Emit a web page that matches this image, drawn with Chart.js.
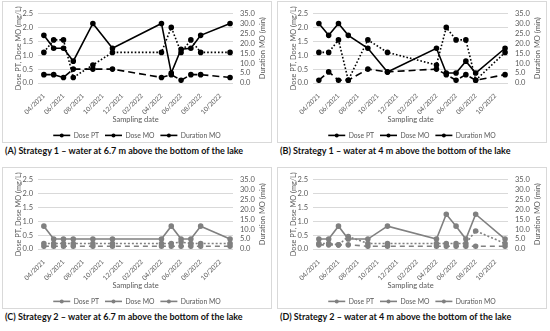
<!DOCTYPE html>
<html>
<head>
<meta charset="utf-8">
<script src="https://cdn.jsdelivr.net/npm/chart.js@4.4.0/dist/chart.umd.js"></script>
<style>
  body { margin: 0; background: #fff; width: 550px; height: 331px; position: relative; overflow: hidden; }
  .panel { position: absolute; width: 268px; height: 140px; border: 1px solid #d9d9d9; }
  .panel canvas { display: block; }
  .caption { position: absolute; font-family: Lato, sans-serif; font-weight: bold; font-size: 9px; color: #111; white-space: nowrap; }
</style>
</head>
<body>
<div class="panel" style="left:2px;top:1px"><canvas id="chartA" width="268" height="140"></canvas></div>
<div class="panel" style="left:277px;top:1px"><canvas id="chartB" width="268" height="140"></canvas></div>
<div class="panel" style="left:2px;top:167px"><canvas id="chartC" width="268" height="140"></canvas></div>
<div class="panel" style="left:277px;top:167px"><canvas id="chartD" width="268" height="140"></canvas></div>
<div class="caption" style="left:5px;top:145px">(A) Strategy 1 – water at 6.7 m above the bottom of the lake</div>
<div class="caption" style="left:280px;top:145px">(B) Strategy 1 – water at 4 m above the bottom of the lake</div>
<div class="caption" style="left:5px;top:311px">(C) Strategy 2 – water at 6.7 m above the bottom of the lake</div>
<div class="caption" style="left:280px;top:311px">(D) Strategy 2 – water at 4 m above the bottom of the lake</div>
<script>
// Sampling dates as months after 04/2021
const sampleMonths = [0, 1, 2, 3, 5, 7, 12, 13, 14, 15, 16, 19];
const tickMonths = [0, 2, 4, 6, 8, 10, 12, 14, 16, 18];
const tickLabels = ['04/2021', '06/2021', '08/2021', '10/2021', '12/2021', '02/2022', '04/2022', '06/2022', '08/2022', '10/2022'];

// (A) Strategy 1, 6.7 m
const aDosePT = [1.1, 1.55, 1.55, 0.2, 0.65, 1.1, 1.1, 2.0, 1.1, 1.55, 1.1, 1.1];
const aDoseMO = [0.3, 0.3, 0.2, 0.5, 0.5, 0.5, 0.2, 0.3, 0.1, 0.3, 0.3, 0.2];
const aDuration = [24, 17.5, 17.5, 11, 30, 17.5, 30, 5, 17, 17.5, 24, 30];

// (B) Strategy 1, 4 m
const bDosePT = [1.1, 1.1, 1.55, 0.1, 1.55, 1.1, 0.65, 2.0, 1.55, 1.55, 0.1, 1.1];
const bDoseMO = [0.1, 0.4, 0.1, 0.1, 0.5, 0.4, 0.5, 0.3, 0.1, 0.3, 0.1, 0.3];
const bDuration = [30, 24, 30, 24, 17.5, 5.5, 17.5, 5, 5, 11, 5, 17.5];

// (C) Strategy 2, 6.7 m
const cDosePT = [0.2, 0.2, 0.2, 0.2, 0.2, 0.2, 0.2, 0.2, 0.25, 0.2, 0.2, 0.2];
const cDoseMO = [0.1, 0.1, 0.1, 0.1, 0.1, 0.1, 0.1, 0.1, 0.1, 0.1, 0.1, 0.1];
const cDuration = [11.5, 5, 5, 5, 5, 5, 5, 11.5, 5, 5, 11.5, 5];

// (D) Strategy 2, 4 m
const dDosePT = [0.2, 0.2, 0.15, 0.45, 0.2, 0.2, 0.2, 0.2, 0.2, 0.2, 0.65, 0.2];
const dDoseMO = [0.15, 0.15, 0.15, 0.15, 0.1, 0.1, 0.1, 0.1, 0.1, 0.1, 0.1, 0.1];
const dDuration = [5, 5, 11.5, 5, 5, 11.5, 5, 17.5, 11.5, 5, 17.5, 5];

const FONT = 'Lato, sans-serif';
const TEXT = '#595959';

function points(values) {
    return values.map((v, i) => ({ x: sampleMonths[i], y: v }));
}

// draws legend markers and the right axis title (reads bottom to top)
const extrasPlugin = {
    id: 'extras',
    afterDraw(chart) {
        const ctx = chart.ctx;
        const legend = chart.legend;
        const boxW = legend.options.labels.pointStyleWidth;
        ctx.save();
        legend.legendHitBoxes.forEach((box, i) => {
            const ds = chart.data.datasets[i];
            ctx.beginPath();
            ctx.fillStyle = ds.pointBackgroundColor;
            ctx.arc(box.left + boxW / 2, box.top + box.height / 2, 2, 0, Math.PI * 2);
            ctx.fill();
        });
        const area = chart.chartArea;
        ctx.translate(chart.width - 8, (area.top + area.bottom) / 2);
        ctx.rotate(-Math.PI / 2);
        ctx.fillStyle = TEXT;
        ctx.font = '7.5px ' + FONT;
        ctx.textAlign = 'center';
        ctx.textBaseline = 'middle';
        ctx.fillText('Duration MO (min)', 0, 0);
        ctx.restore();
    }
};

function makeChart(id, dosePT, doseMO, duration, color, ptDash, moDash) {
    const common = {
        borderColor: color,
        backgroundColor: color,
        pointBackgroundColor: color,
        pointBorderColor: color,
        pointRadius: 2,
        borderWidth: 1.6,
        tension: 0
    };
    new Chart(document.getElementById(id), {
        type: 'line',
        data: {
            datasets: [
                Object.assign({ label: 'Dose PT', data: points(dosePT), borderDash: ptDash, yAxisID: 'y' }, common),
                Object.assign({ label: 'Dose MO', data: points(doseMO), borderDash: moDash, yAxisID: 'y' }, common),
                Object.assign({ label: 'Duration MO', data: points(duration), yAxisID: 'y1' }, common)
            ]
        },
        options: {
            responsive: false,
            animation: false,
            devicePixelRatio: 1,
            layout: { padding: { top: 7, bottom: 0 } },
            plugins: {
                legend: {
                    position: 'bottom',
                    maxHeight: 16,
                    labels: {
                        usePointStyle: true,
                        pointStyle: 'line',
                        pointStyleWidth: 17,
                        color: TEXT,
                        padding: 6,
                        font: { family: FONT, size: 6.8 }
                    }
                },
                tooltip: { enabled: false }
            },
            scales: {
                x: {
                    type: 'linear',
                    min: -0.6,
                    max: 19.3,
                    afterBuildTicks: (scale) => {
                        scale.ticks = tickMonths.map(v => ({ value: v }));
                    },
                    afterFit: (scale) => { scale.height = 43; },
                    grid: { display: false },
                    border: { display: false },
                    ticks: {
                        minRotation: 45,
                        maxRotation: 45,
                        autoSkip: false,
                        padding: 1,
                        color: TEXT,
                        font: { family: FONT, size: 6.6 },
                        callback: (v) => tickLabels[tickMonths.indexOf(v)]
                    },
                    title: {
                        display: true,
                        text: 'Sampling date',
                        color: TEXT,
                        padding: { top: 2, bottom: 1.5 },
                        font: { family: FONT, size: 7.5 }
                    }
                },
                y: {
                    position: 'left',
                    min: 0,
                    max: 2.5,
                    afterFit: (scale) => { scale.width = 35; },
                    grid: { color: '#d9d9d9', drawTicks: false },
                    border: { display: false },
                    ticks: {
                        stepSize: 0.5,
                        autoSkip: false,
                        padding: 5,
                        color: TEXT,
                        font: { family: FONT, size: 7.5 },
                        callback: (v) => v.toFixed(1)
                    },
                    title: {
                        display: true,
                        text: 'Dose PT, Dose MO (mg/L)',
                        color: TEXT,
                        padding: { top: 11, bottom: 0 },
                        font: { family: FONT, size: 7.3 }
                    }
                },
                y1: {
                    position: 'right',
                    min: 0,
                    max: 35,
                    afterFit: (scale) => { scale.width = 38; },
                    grid: { drawOnChartArea: false, drawTicks: false },
                    border: { display: false },
                    ticks: {
                        stepSize: 5,
                        autoSkip: false,
                        padding: 7,
                        color: TEXT,
                        font: { family: FONT, size: 7.5 },
                        callback: (v) => v.toFixed(1)
                    }
                }
            }
        },
        plugins: [extrasPlugin]
    });
}

makeChart('chartA', aDosePT, aDoseMO, aDuration, '#000000', [1.6, 2], [7, 4]);
makeChart('chartB', bDosePT, bDoseMO, bDuration, '#000000', [1.6, 2], [7, 4]);
makeChart('chartC', cDosePT, cDoseMO, cDuration, '#808080', [2, 2], [5, 4]);
makeChart('chartD', dDosePT, dDoseMO, dDuration, '#808080', [2, 2], [5, 4]);
</script>
</body>
</html>
